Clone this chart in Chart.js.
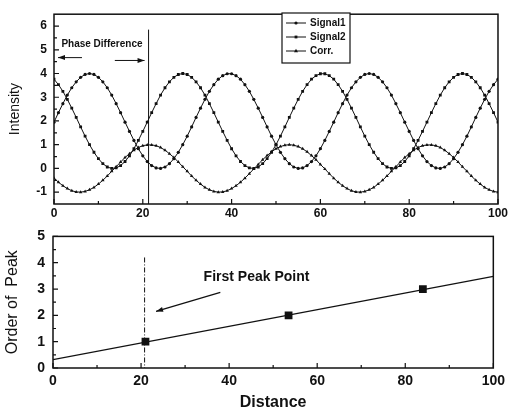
<!DOCTYPE html>
<html lang="en">
<head>
<meta charset="UTF-8">
<title>Phase Difference</title>
<script src="https://cdn.jsdelivr.net/npm/chart.js@4.4.0/dist/chart.umd.min.js"></script>
<style>
  html, body { margin: 0; padding: 0; background: #fff; }
  #wrap { position: relative; width: 510px; height: 412px; }
  canvas { position: absolute; left: 0; }
  #topChart { top: 0; }
  #bottomChart { top: 220px; }
</style>
</head>
<body>
<div id="wrap">
  <canvas id="topChart" width="510" height="220"></canvas>
  <canvas id="bottomChart" width="510" height="192"></canvas>
</div>
<script>
// values
const distance = [0,1,2,3,4,5,6,7,8,9,10,11,12,13,14,15,16,17,18,19,20,21,22,23,24,25,26,27,28,29,30,31,32,33,34,35,36,37,38,39,40,41,42,43,44,45,46,47,48,49,50,51,52,53,54,55,56,57,58,59,60,61,62,63,64,65,66,67,68,69,70,71,72,73,74,75,76,77,78,79,80,81,82,83,84,85,86,87,88,89,90,91,92,93,94,95,96,97,98,99,100]
const signal1 = [1.95,2.35,2.73,3.09,3.40,3.65,3.84,3.96,4.00,3.96,3.84,3.65,3.40,3.09,2.73,2.35,1.95,1.56,1.18,0.83,0.53,0.29,0.12,0.02,0.00,0.06,0.20,0.41,0.68,1.00,1.36,1.75,2.15,2.54,2.91,3.25,3.53,3.76,3.91,3.99,3.99,3.91,3.76,3.53,3.25,2.91,2.54,2.15,1.75,1.36,1.00,0.68,0.41,0.20,0.06,0.00,0.02,0.12,0.29,0.53,0.83,1.18,1.56,
  1.95,2.35,2.73,3.09,3.40,3.65,3.84,3.96,4.00,3.96,3.84,3.65,3.40,3.09,2.73,2.35,1.95,1.56,1.18,0.83,0.53,0.29,0.12,0.02,0.00,0.06,0.20,0.41,0.68,1.00,1.36,1.75,2.15,2.54,2.91,3.25,3.53,3.76]
const signal2 = [3.76,3.53,3.25,2.91,2.54,2.15,1.75,1.36,1.00,0.68,0.41,0.20,0.06,0.00,0.02,0.12,0.29,0.53,0.83,1.18,1.56,1.95,2.35,2.73,3.09,3.40,3.65,3.84,3.96,4.00,3.96,3.84,3.65,3.40,3.09,2.73,2.35,1.95,1.56,1.18,0.83,0.53,0.29,0.12,0.02,0.00,0.06,0.20,0.41,0.68,1.00,1.36,1.75,2.15,2.54,2.91,3.25,3.53,3.76,3.91,3.99,3.99,3.91,
  3.76,3.53,3.25,2.91,2.54,2.15,1.75,1.36,1.00,0.68,0.41,0.20,0.06,0.00,0.02,0.12,0.29,0.53,0.83,1.18,1.56,1.95,2.35,2.73,3.09,3.40,3.65,3.84,3.96,4.00,3.96,3.84,3.65,3.40,3.09,2.73,2.35,1.95]
const corr = [-0.41,-0.58,-0.73,-0.85,-0.94,-0.99,-1.00,-0.97,-0.90,-0.80,-0.66,-0.50,-0.32,-0.12,0.07,0.27,0.46,0.62,0.77,0.88,0.96,0.99,0.99,0.96,0.88,0.77,0.62,0.46,0.27,0.07,-0.12,-0.32,-0.50,-0.66,-0.80,-0.90,-0.97,-1.00,-0.99,-0.94,-0.85,-0.73,-0.58,-0.41,-0.22,-0.02,0.17,0.37,0.54,0.70,0.83,0.92,0.98,1.00,0.98,0.92,0.83,0.70,0.54,0.37,0.17,-0.02,-0.22,
  -0.41,-0.58,-0.73,-0.85,-0.94,-0.99,-1.00,-0.97,-0.90,-0.80,-0.66,-0.50,-0.32,-0.12,0.07,0.27,0.46,0.62,0.77,0.88,0.96,0.99,0.99,0.96,0.88,0.77,0.62,0.46,0.27,0.07,-0.12,-0.32,-0.50,-0.66,-0.80,-0.90,-0.97,-1.00]

const peakDistance = [21, 53.5, 84]
const peakOrder = [1, 2, 3]
const fitDistance = [0, 100]
const fitOrder = [0.32, 3.48]

const xTicks = [0, 20, 40, 60, 80, 100]
const yTicksTop = [-1, 0, 1, 2, 3, 4, 5, 6]
const yTicksBottom = [0, 1, 2, 3, 4, 5]

const FONT = "'Liberation Sans', Arial, Helvetica, sans-serif"
const INK = '#111'

function pts(xs, ys) {
  return xs.map((v, i) => ({ x: v, y: ys[i] }))
}

function setTicks(list) {
  return function(scale) { scale.ticks = list.map(v => ({ value: v })) }
}

function arrow(ctx, x1, y1, x2, y2) {
  const ang = Math.atan2(y2 - y1, x2 - x1)
  ctx.beginPath()
  ctx.moveTo(x1, y1)
  ctx.lineTo(x2, y2)
  ctx.stroke()
  ctx.beginPath()
  ctx.moveTo(x2, y2)
  ctx.lineTo(x2 - 7 * Math.cos(ang) + 2.5 * Math.sin(ang), y2 - 7 * Math.sin(ang) - 2.5 * Math.cos(ang))
  ctx.lineTo(x2 - 7 * Math.cos(ang) - 2.5 * Math.sin(ang), y2 - 7 * Math.sin(ang) + 2.5 * Math.cos(ang))
  ctx.closePath()
  ctx.fill()
}

function marker(ctx, style, x, y) {
  ctx.beginPath()
  if (style == 'triangle') {
    ctx.moveTo(x, y - 2.2); ctx.lineTo(x + 2, y + 1.3); ctx.lineTo(x - 2, y + 1.3); ctx.closePath()
  } else if (style == 'rect') {
    ctx.rect(x - 1.4, y - 1.4, 2.8, 2.8)
  } else {
    ctx.arc(x, y, 1.6, 0, Math.PI * 2)
  }
  ctx.fill()
}

// frame with inward ticks, Origin style
const framePlugin = {
  id: 'frame',
  afterDatasetsDraw(chart, args, opts) {
    const { ctx, chartArea: a, scales: { x, y } } = chart
    ctx.save()
    ctx.strokeStyle = INK
    ctx.lineWidth = 1.5
    ctx.strokeRect(a.left, a.top, a.right - a.left, a.bottom - a.top)
    ctx.lineWidth = 1.2
    ctx.beginPath()
    opts.xMajor.forEach((v, i) => {
      let px = x.getPixelForValue(v)
      ctx.moveTo(px, a.bottom); ctx.lineTo(px, a.bottom - 5)
      if (i < opts.xMajor.length - 1) {
        px = x.getPixelForValue((v + opts.xMajor[i + 1]) / 2)
        ctx.moveTo(px, a.bottom); ctx.lineTo(px, a.bottom - 3)
      }
    })
    opts.yMajor.forEach((v, i) => {
      let py = y.getPixelForValue(v)
      ctx.moveTo(a.left, py); ctx.lineTo(a.left + 5, py)
      py = y.getPixelForValue(v + 0.5)
      if (v + 0.5 < y.max) { ctx.moveTo(a.left, py); ctx.lineTo(a.left + 3, py) }
      py = y.getPixelForValue(v - 0.5)
      if (i == 0 && v - 0.5 > y.min) { ctx.moveTo(a.left, py); ctx.lineTo(a.left + 3, py) }
    })
    ctx.stroke()
    ctx.restore()
  }
}

// notes on the top plot
const phaseNotes = {
  id: 'phaseNotes',
  afterDatasetsDraw(chart) {
    const { ctx, scales: { x, y } } = chart
    ctx.save()
    ctx.strokeStyle = INK
    ctx.fillStyle = INK
    ctx.lineWidth = 1
    ctx.beginPath()
    ctx.moveTo(x.getPixelForValue(21.3), y.getPixelForValue(5.85))
    ctx.lineTo(x.getPixelForValue(21.3), y.getPixelForValue(-1.5))
    ctx.stroke()

    ctx.font = 'bold 10px ' + FONT
    ctx.textAlign = 'center'
    ctx.textBaseline = 'middle'
    ctx.fillText('Phase Difference', x.getPixelForValue(10.8), y.getPixelForValue(5.24))

    arrow(ctx, x.getPixelForValue(6.3), y.getPixelForValue(4.67), x.getPixelForValue(0.9), y.getPixelForValue(4.67))
    arrow(ctx, x.getPixelForValue(13.7), y.getPixelForValue(4.55), x.getPixelForValue(20.4), y.getPixelForValue(4.55))

    // legend box
    const bx = 282, by = 13, bw = 68, bh = 50
    ctx.fillStyle = '#fff'
    ctx.fillRect(bx, by, bw, bh)
    ctx.lineWidth = 1.2
    ctx.strokeRect(bx, by, bw, bh)
    ctx.fillStyle = INK
    ctx.textAlign = 'left'
    chart.data.datasets.forEach((ds, i) => {
      const ly = by + 10 + i * 14
      ctx.lineWidth = 1
      ctx.beginPath()
      ctx.moveTo(bx + 4, ly); ctx.lineTo(bx + 24, ly)
      ctx.stroke()
      marker(ctx, ds.pointStyle, bx + 14, ly)
      ctx.fillText(ds.label, bx + 28, ly)
    })
    ctx.restore()
  }
}

// notes on the bottom plot
const peakNotes = {
  id: 'peakNotes',
  afterDatasetsDraw(chart) {
    const { ctx, scales: { x, y } } = chart
    ctx.save()
    ctx.strokeStyle = INK
    ctx.fillStyle = INK
    ctx.lineWidth = 1
    ctx.setLineDash([5, 2, 1, 2])
    ctx.beginPath()
    ctx.moveTo(x.getPixelForValue(20.8), y.getPixelForValue(4.2))
    ctx.lineTo(x.getPixelForValue(20.8), y.getPixelForValue(0))
    ctx.stroke()
    ctx.setLineDash([])
    ctx.lineWidth = 1.3
    arrow(ctx, x.getPixelForValue(38), y.getPixelForValue(2.87), x.getPixelForValue(23.4), y.getPixelForValue(2.15))
    ctx.font = 'bold 14px ' + FONT
    ctx.textAlign = 'left'
    ctx.textBaseline = 'middle'
    ctx.fillText('First Peak Point', x.getPixelForValue(34.2), y.getPixelForValue(3.45))
    ctx.restore()
  }
}

var topChart = new Chart(document.getElementById('topChart'), {
  type: 'line',
  data: {
    datasets: [
      { label: 'Signal1', data: pts(distance, signal1), pointStyle: 'circle', pointRadius: 1.6 },
      { label: 'Signal2', data: pts(distance, signal2), pointStyle: 'rect', pointRadius: 2 },
      { label: 'Corr.', data: pts(distance, corr), pointStyle: 'triangle', pointRadius: 2 }
    ].map(ds => Object.assign(ds, {
      borderColor: INK, backgroundColor: INK, pointBorderWidth: 0, borderWidth: 1, tension: 0
    }))
  },
  options: {
    responsive: false,
    animation: false,
    layout: { padding: { top: 8, right: 11, left: 0, bottom: 0 } },
    plugins: {
      legend: { display: false },
      tooltip: { enabled: false },
      frame: { xMajor: xTicks, yMajor: yTicksTop }
    },
    scales: {
      x: {
        type: 'linear', min: 0, max: 100,
        afterBuildTicks: setTicks(xTicks),
        afterFit: s => { s.height = 16 },
        grid: { display: false, drawTicks: false }, border: { display: false },
        ticks: { padding: 2, maxRotation: 0, color: INK, font: { family: FONT, size: 12, weight: 'bold' } }
      },
      y: {
        min: -1.5, max: 6.5,
        afterBuildTicks: setTicks(yTicksTop),
        afterFit: s => { s.width = 54 },
        grid: { display: false, drawTicks: false }, border: { display: false },
        ticks: { padding: 7, color: INK, font: { family: FONT, size: 12, weight: 'bold' } },
        title: { display: true, text: 'Intensity', color: INK, font: { family: FONT, size: 14 }, padding: { top: 7, bottom: 0 } }
      }
    }
  },
  plugins: [framePlugin, phaseNotes]
})

var bottomChart = new Chart(document.getElementById('bottomChart'), {
  type: 'line',
  data: {
    datasets: [
      { label: 'Fit', data: pts(fitDistance, fitOrder), borderColor: INK, borderWidth: 1.2, pointRadius: 0 },
      { label: 'Peaks', data: pts(peakDistance, peakOrder), showLine: false, pointStyle: 'rect', pointRadius: 5.5, backgroundColor: INK, borderColor: INK, pointBorderWidth: 0 }
    ]
  },
  options: {
    responsive: false,
    animation: false,
    layout: { padding: { top: 15, right: 13, left: 0, bottom: 0 } },
    plugins: {
      legend: { display: false },
      tooltip: { enabled: false },
      frame: { xMajor: xTicks, yMajor: yTicksBottom }
    },
    scales: {
      x: {
        type: 'linear', min: 0, max: 100,
        afterBuildTicks: setTicks(xTicks),
        afterFit: s => { s.height = 44 },
        grid: { display: false, drawTicks: false }, border: { display: false },
        ticks: { padding: 5, maxRotation: 0, color: INK, font: { family: FONT, size: 14, weight: 'bold' } },
        title: { display: true, text: 'Distance', color: INK, font: { family: FONT, size: 16, weight: 'bold' }, padding: { top: 0, bottom: 0 } }
      },
      y: {
        min: 0, max: 5,
        afterBuildTicks: setTicks(yTicksBottom),
        afterFit: s => { s.width = 53 },
        grid: { display: false, drawTicks: false }, border: { display: false },
        ticks: { padding: 8, color: INK, font: { family: FONT, size: 14, weight: 'bold' } },
        title: { display: true, text: 'Order of  Peak', color: INK, font: { family: FONT, size: 16 }, padding: { top: 3, bottom: 0 } }
      }
    }
  },
  plugins: [framePlugin, peakNotes]
})
</script>
</body>
</html>
